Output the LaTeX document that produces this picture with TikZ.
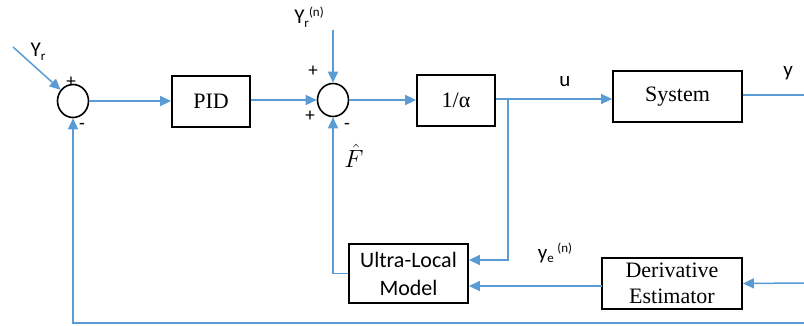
\documentclass[tikz,border=0pt]{standalone}
\usepackage{fontspec}
\setmainfont{Liberation Serif}
\newfontfamily\calib{Carlito}
\usetikzlibrary{arrows.meta,shapes.geometric}
\definecolor{lblue}{RGB}{91,155,213}
\begin{document}
\begin{tikzpicture}[x=1pt,y=-1pt,
  blk/.style={draw=black,line width=1.8pt,inner sep=0pt,align=center,font=\fontsize{22}{24}\selectfont},
  sumc/.style={ellipse,draw=black,line width=1.6pt,minimum width=31pt,minimum height=33pt,inner sep=0pt},
  conn/.style={draw=lblue,line width=1.5pt},
  arr/.style={conn,-{Triangle[length=11pt,width=10pt]}},
  lbl/.style={font=\calib\fontsize{21}{23}\selectfont,inner sep=0pt},
  sgn/.style={font=\calib\fontsize{19}{20}\selectfont,inner sep=0pt}]
\useasboundingbox (0,0) rectangle (804,325);
% blocks
\node[sumc] (s1) at (73,101) {};
\node[sumc] (s2) at (333,100) {};
\node[blk,minimum width=78pt,minimum height=51pt] (pid) at (211,101.5) {PID};
\node[blk,minimum width=78pt,minimum height=51pt] (alpha) at (456,100.5) {1/α};
\node[blk,minimum width=129pt,minimum height=51pt] (sys) at (677.5,96.5) {System};
\node[blk,minimum width=119pt,minimum height=59pt,font=\calib\fontsize{22}{28}\selectfont] (ulm) at (408.5,273.5) {Ultra-Local\\Model};
\node[blk,minimum width=140pt,minimum height=51pt,font=\fontsize{22}{26}\selectfont] (der) at (672,283.5) {Derivative\\Estimator};
% coordinates
\coordinate (yrin) at (13,47);
\coordinate (yrn) at (333,30);
\coordinate (br) at (508,99);
\coordinate (bk) at (508,260);
\coordinate (yout) at (804,95);
\coordinate (din) at (804,283);
\coordinate (fb) at (804,323);
\coordinate (fbl) at (73,323);
\coordinate (dl) at (602,286);
% connectors
\draw[arr] (yrin) -- (s1);
\draw[arr] (s1.east) -- (pid.west |- s1.east);
\draw[arr] (pid.east |- s2.west) -- (s2.west);
\draw[arr] (yrn) -- (s2.north);
\draw[arr] (s2.east) -- (alpha.west |- s2.east);
\draw[conn] (alpha.east |- br) -- (br);
\draw[arr] (br) -- (sys.west |- br);
\draw[conn] (sys.east |- yout) -- (yout);
\draw[arr] (br) -- (bk) -- (ulm.east |- bk);
\draw[arr] (ulm.west) -| (s2.south);
\draw[arr] (dl) -- (ulm.east |- dl);
\draw[arr] (din) -- (der.east);
\draw[arr] (fb) -- (fbl) -- (s1.south);
% labels
\node[lbl] (lyr) at (38,52) {Y\raisebox{-4pt}{\fontsize{13}{13}\selectfont r}};
\node[sgn] (p1) at (71,82) {+};
\node[sgn] (m1) at (82,126) {-};
\node[sgn] (p2) at (313,71) {+};
\node[sgn] (p3) at (310,116) {+};
\node[sgn] (m2) at (347,126) {-};
\node[inner sep=0pt,font=\fontsize{23}{25}\selectfont] (fh) at (354,156) {$\hat{F}$};
\node[lbl] (lyrn) at (309,17) {Y\raisebox{-4pt}{\fontsize{13}{13}\selectfont r}\raisebox{7pt}{\fontsize{13}{13}\selectfont (n)}};
\node[lbl] (lu) at (565,82) {u};
\node[lbl] (ly) at (788,73) {y};
\node[lbl] (lye) at (555,253) {y\raisebox{-3pt}{\fontsize{13}{13}\selectfont e}\,\raisebox{7pt}{\fontsize{13}{13}\selectfont (n)}};
\end{tikzpicture}
\end{document}
